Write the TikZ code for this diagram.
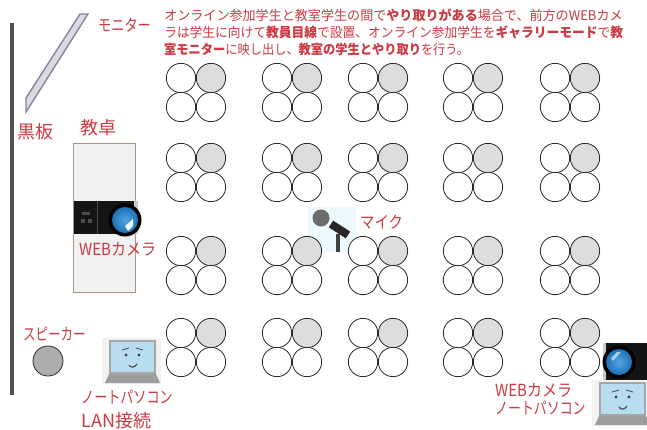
\documentclass[tikz,border=0pt]{standalone}
\usepackage{fontspec}
\setmainfont{Noto Sans CJK JP}
\definecolor{lab}{HTML}{CB3A42}
\definecolor{ink}{HTML}{2B2B2B}
\definecolor{seatgray}{HTML}{DCDDDE}
\definecolor{scr}{HTML}{B9DDF0}
\definecolor{lens}{HTML}{1F86D6}
\newcommand{\bb}[1]{\textbf{#1}}
\tikzset{
  x=0.75pt,y=-0.75pt,
  lab/.style={text=lab,inner sep=0pt,anchor=west,font=\fontsize{12.5}{14}\selectfont,transform shape},
  body/.style={text=lab,inner sep=0pt,anchor=west,font=\fontsize{10}{12}\selectfont,transform shape},
  seat/.style={circle,draw=ink,line width=0.6pt,minimum size=22pt,inner sep=0pt,fill=white},
  seatg/.style={seat,fill=seatgray},
}
\newcommand{\seats}[3]{%
  \node[seat] (#3a) at (#1,#2) {};
  \node[seatg] (#3b) at (#1+30,#2) {};
  \node[seat] (#3c) at (#1,#2+29) {};
  \node[seat] (#3d) at (#1+30,#2+29) {};
}
\newcommand{\lensball}[2]{%
  \fill[black] (#1,#2) circle[radius=16.5];
  \shade[inner color=lens!75!white,outer color=lens!85!black] (#1,#2) circle[radius=13];
}
\newcommand{\laptop}[2]{%
  \fill[black!5] (#1-30,#2-23) rectangle (#1+29,#2+23);
  \fill[black!35] (#1-23,#2-21) rectangle (#1+24,#2+13);
  \fill[scr] (#1-21,#2-19) rectangle (#1+22,#2+11);
  \fill[black!38] (#1-23,#2+13) -- (#1+24,#2+13) -- (#1+28,#2+22) -- (#1-27,#2+22) -- cycle;
  \fill[black!75] (#1-6,#2-6) circle[radius=1.7];
  \fill[black!75] (#1+7,#2-6) circle[radius=1.7];
  \draw[black!65,line width=0.7pt] (#1-10,#2-11) -- (#1-3,#2-13);
  \draw[black!65,line width=0.7pt] (#1+4,#2-13) -- (#1+11,#2-11);
  \draw[black!75,line width=0.8pt] (#1-3,#2+4) .. controls (#1-1,#2+7) and (#1+2,#2+7) .. (#1+5,#2+3);
}
\begin{document}
\begin{tikzpicture}
\useasboundingbox (0,0) rectangle (647,429);
\fill[white] (0,0) rectangle (647,429);
% blackboard + monitor
\draw[draw=black!68,line width=3.6pt] (12,23) -- (12,395);
\draw[draw=blue!35!black!50!white,fill=black!14,line width=1pt] (80,14) -- (88,14) -- (26,112) -- (26,98) -- cycle;
% desk
\node[draw=brown!60!black!60,fill=black!5,line width=0.7pt,minimum width=46.5pt,minimum height=112pt,inner sep=0pt,anchor=north west] (desk) at (73,143) {};
% mic
\fill[cyan!7] (308,207) rectangle (356,252);
\fill[black!58] (321,218) circle[radius=8.5];
\draw[black!85,line width=6pt] (331,224) -- (348,235);
\draw[black!75,line width=2.4pt] (338,234) -- (338,252);
% seats
\seats{181}{78}{sA}\seats{277}{78}{sB}\seats{363}{78}{sC}\seats{458}{78}{sD}\seats{555}{78}{sE}
\seats{181}{158}{sF}\seats{277}{158}{sG}\seats{363}{158}{sH}\seats{458}{158}{sI}\seats{555}{158}{sJ}
\seats{181}{251}{sK}\seats{277}{251}{sL}\seats{363}{251}{sM}\seats{458}{251}{sN}\seats{555}{251}{sO}
\seats{181}{333}{sP}\seats{277}{333}{sQ}\seats{363}{333}{sR}\seats{458}{333}{sS}\seats{555}{333}{sT}
% speaker
\node[circle,draw=ink,fill=black!32,line width=0.6pt,minimum size=22.5pt,inner sep=0pt] (spk) at (48,361) {};
% webcam on desk
\fill[black!92] (74,201) rectangle (138,234);
\fill[white!80!black] (134,201) rectangle (138,234);
\draw[black!70,line width=0.6pt] (97,201) -- (97,234);
\fill[black!70] (82,212) rectangle (90,215);
\fill[black!70] (81,219) rectangle (85,223);
\fill[black!70] (88,219) rectangle (92,223);
\lensball{125}{220}
\fill[white!90!cyan] (125,226) -- (133,219) -- (133,226) -- (128,231) -- cycle;
% webcam at the back
\fill[black!92] (603,343) rectangle (647,380);
\fill[white!80!black] (603,343) rectangle (606,380);
\lensball{619}{362}
\fill[white!60!lens] (611,358) -- (617,352) -- (621,352) -- (613,361) -- cycle;
% laptops
\laptop{132}{361}
\laptop{622}{403}
% labels
\node[lab,xscale=.79] (lmon) at (98,25) {モニター};
\node[lab,font=\fontsize{13.5}{15}\selectfont] (lbb) at (17,132) {黒板};
\node[lab,font=\fontsize{13.5}{15}\selectfont] (ldesk) at (80,128) {教卓};
\node[lab,xscale=.9] (lcam) at (79,249) {WEBカメラ};
\node[lab,xscale=.86] (lmic) at (360,222) {マイク};
\node[lab,xscale=.75] (lspk) at (23,334) {スピーカー};
\node[lab,xscale=.784] (lpc) at (81,397) {ノートパソコン};
\node[lab,font=\fontsize{13.5}{15}\selectfont] (llan) at (81,421) {LAN接続};
\node[lab,xscale=.9] (lcam2) at (495,390) {WEBカメラ};
\node[lab,xscale=.775] (lpc2) at (495,408) {ノートパソコン};
\node[body,xscale=.98] (t1) at (164,15) {オンライン参加学生と教室学生の間で\bb{やり取りがある}場合で、前方のWEBカメ};
\node[body,xscale=.956] (t2) at (164,32) {ラは学生に向けて\bb{教員目線}で設置、オンライン参加学生を\bb{ギャラリーモード}で\bb{教}};
\node[body,xscale=.917] (t3) at (164,49) {\bb{室モニター}に映し出し、\bb{教室の学生とやり取り}を行う。};
\end{tikzpicture}
\end{document}
